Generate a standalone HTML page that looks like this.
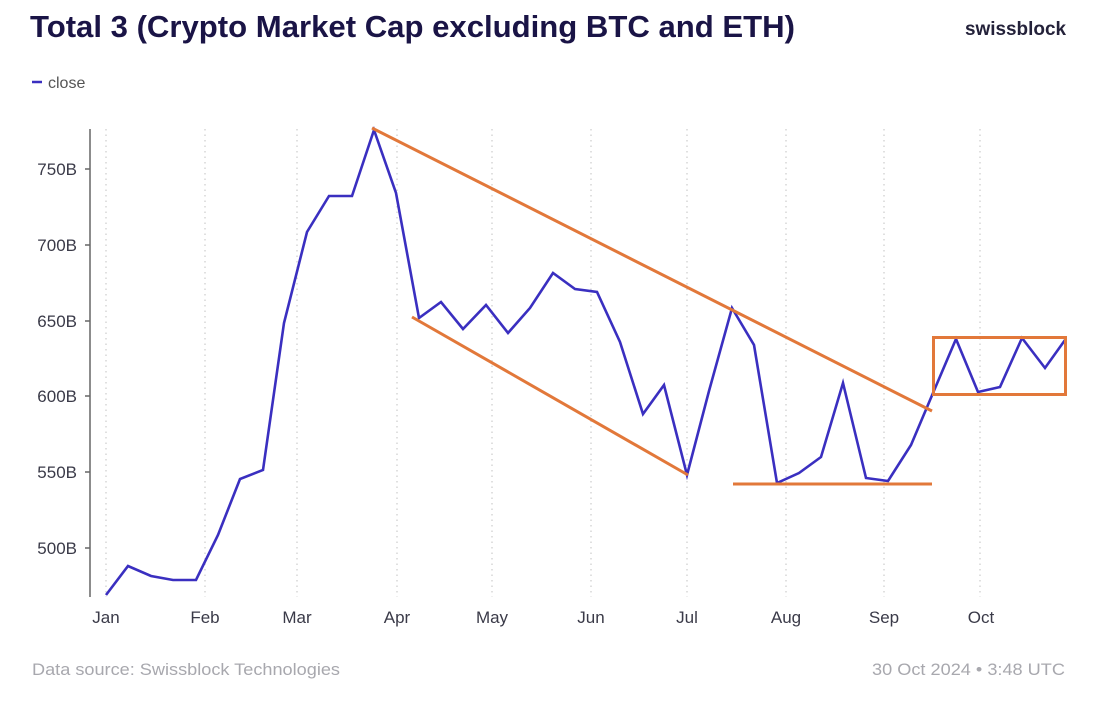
<!DOCTYPE html>
<html><head><meta charset="utf-8"><style>
html,body{margin:0;padding:0;background:#fff;}
svg{display:block;}
</style></head><body>
<svg width="1112" height="713" viewBox="0 0 1112 713" xmlns="http://www.w3.org/2000/svg">
<rect width="1112" height="713" fill="#fff"/>
<text x="30" y="37" font-family="Liberation Sans, sans-serif" font-weight="bold" font-size="31" fill="#1a1446" textLength="765" lengthAdjust="spacingAndGlyphs">Total 3 (Crypto Market Cap excluding BTC and ETH)</text>
<text x="1066" y="35" text-anchor="end" font-family="Liberation Sans, sans-serif" font-weight="bold" font-size="19" fill="#24223a" textLength="101" lengthAdjust="spacingAndGlyphs">swissblock</text>
<line x1="32" y1="82" x2="42" y2="82" stroke="#3a2fc0" stroke-width="2.5"/>
<text x="48" y="88" font-family="Liberation Sans, sans-serif" font-size="16" fill="#555">close</text>
<g stroke="#d0d0d0" stroke-width="1.3" stroke-dasharray="1.5 4">
<line x1="106" y1="129" x2="106" y2="597"/>
<line x1="205" y1="129" x2="205" y2="597"/>
<line x1="297" y1="129" x2="297" y2="597"/>
<line x1="397" y1="129" x2="397" y2="597"/>
<line x1="492" y1="129" x2="492" y2="597"/>
<line x1="591" y1="129" x2="591" y2="597"/>
<line x1="687" y1="129" x2="687" y2="597"/>
<line x1="786" y1="129" x2="786" y2="597"/>
<line x1="884" y1="129" x2="884" y2="597"/>
<line x1="980" y1="129" x2="980" y2="597"/>
</g>
<line x1="90" y1="129" x2="90" y2="597" stroke="#666" stroke-width="1.5"/>
<g stroke="#666" stroke-width="1.5">
<line x1="85" y1="169" x2="90" y2="169"/>
<line x1="85" y1="245" x2="90" y2="245"/>
<line x1="85" y1="321" x2="90" y2="321"/>
<line x1="85" y1="396" x2="90" y2="396"/>
<line x1="85" y1="472" x2="90" y2="472"/>
<line x1="85" y1="548" x2="90" y2="548"/>
</g>
<g font-family="Liberation Sans, sans-serif" font-size="17" fill="#3a3a48" text-anchor="end">
<text x="77" y="175">750B</text>
<text x="77" y="251">700B</text>
<text x="77" y="327">650B</text>
<text x="77" y="402">600B</text>
<text x="77" y="478">550B</text>
<text x="77" y="554">500B</text>
</g>
<g font-family="Liberation Sans, sans-serif" font-size="17" fill="#3a3a48" text-anchor="middle">
<text x="106" y="623">Jan</text>
<text x="205" y="623">Feb</text>
<text x="297" y="623">Mar</text>
<text x="397" y="623">Apr</text>
<text x="492" y="623">May</text>
<text x="591" y="623">Jun</text>
<text x="687" y="623">Jul</text>
<text x="786" y="623">Aug</text>
<text x="884" y="623">Sep</text>
<text x="981" y="623">Oct</text>
</g>
<polyline fill="none" stroke="#3a2fc0" stroke-width="2.6" stroke-linejoin="miter" points="106,595 128,566 151,576 173,580 196,580 218,535 240,479 263,470 284,323 307,232 329,196 352,196 374,130 396,193 419,318 441,302 463,329 486,305 508,333 530,308 553,273 575,289 597,292 620,342 643,414 664,385 687,475 709,391 732,308 754,345 777,483 799,473 821,457 843,383 866,478 888,481 911,445 933,393 956,339 978,392 1000,387 1022,338 1045,368 1065,340"/>
<g stroke="#e2783a" stroke-width="3" fill="none">
<line x1="372" y1="128" x2="932" y2="411"/>
<line x1="412" y1="317" x2="688" y2="475"/>
<line x1="733" y1="484" x2="932" y2="484"/>
<rect x="933.5" y="337.5" width="132" height="57"/>
</g>
<text x="32" y="675" font-family="Liberation Sans, sans-serif" font-size="17" fill="#a8a8ae" textLength="308" lengthAdjust="spacingAndGlyphs">Data source: Swissblock Technologies</text>
<text x="872" y="675" font-family="Liberation Sans, sans-serif" font-size="17" fill="#a8a8ae" textLength="193" lengthAdjust="spacingAndGlyphs">30 Oct 2024 • 3:48 UTC</text>
</svg>
</body></html>
